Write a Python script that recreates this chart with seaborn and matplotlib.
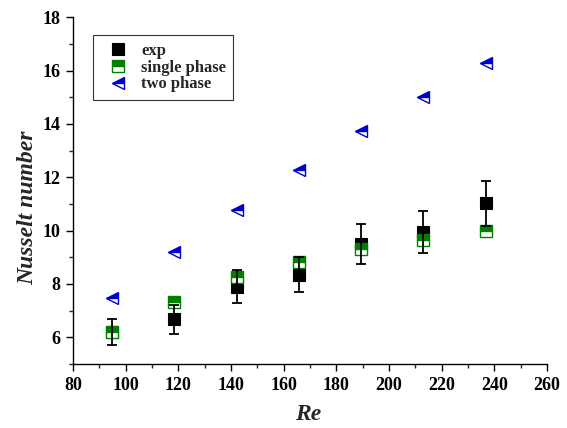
import matplotlib
matplotlib.use("Agg")
import matplotlib.pyplot as plt
from matplotlib.ticker import MultipleLocator
import seaborn as sns
import pandas as pd

re_vals = [94.8, 118.5, 142.2, 165.9, 189.5, 213.1, 236.8]
nu_exp = [6.20, 6.67, 7.90, 8.35, 9.50, 9.95, 11.02]
nu_exp_err = [0.48, 0.53, 0.63, 0.66, 0.76, 0.78, 0.84]
nu_single = [6.21, 7.31, 8.25, 8.84, 9.30, 9.66, 10.00]
nu_two = [7.47, 9.19, 10.78, 12.26, 13.74, 15.03, 16.29]

sns.set_style("ticks")
plt.rcParams["font.family"] = ["Liberation Serif", "DejaVu Serif"]

fig = plt.figure(figsize=(5.67, 4.28), dpi=100)
ax = fig.add_axes([73/567, 64/428, 474/567, 346.7/428])

df = pd.DataFrame({"Re": re_vals, "exp": nu_exp, "err": nu_exp_err,
                   "single": nu_single, "two": nu_two})

sns.lineplot(data=df, x="Re", y="exp", ax=ax, color="black", linestyle="none",
             marker="s", markersize=8, markeredgecolor="black",
             markeredgewidth=0.8, errorbar=None, label="exp", zorder=3)
ax.errorbar(df["Re"], df["exp"], yerr=df["err"], fmt="none", ecolor="black",
            elinewidth=1.3, capsize=3.5, capthick=1.3, zorder=5)
sns.lineplot(data=df, x="Re", y="single", ax=ax, color="green", linestyle="none",
             marker="s", markersize=8, fillstyle="top", markerfacecoloralt="white",
             markeredgecolor="green", markeredgewidth=1.0, errorbar=None,
             label="single phase", zorder=4)
sns.lineplot(data=df, x="Re", y="two", ax=ax, color="#0000cc", linestyle="none",
             marker="<", markersize=9, fillstyle="top", markerfacecoloralt="white",
             markeredgecolor="#0000cc", markeredgewidth=1.0, errorbar=None,
             label="two phase", zorder=4)

ax.set_xlim(80, 260)
ax.set_ylim(5, 18)
ax.xaxis.set_major_locator(MultipleLocator(20))
ax.xaxis.set_minor_locator(MultipleLocator(10))
ax.yaxis.set_major_locator(MultipleLocator(2))
ax.yaxis.set_minor_locator(MultipleLocator(1))
ax.tick_params(which="major", length=5, width=1, direction="out", labelsize=13,
               colors="black", pad=4)
ax.tick_params(which="minor", length=3, width=1, direction="out")
for lab in ax.get_xticklabels() + ax.get_yticklabels():
    lab.set_fontweight("bold")
for s in ["top", "right"]:
    ax.spines[s].set_visible(False)
for s in ["left", "bottom"]:
    ax.spines[s].set_color("black")
    ax.spines[s].set_linewidth(1)

ax.set_xlabel("Re", fontsize=17, fontweight="bold", fontstyle="italic")
ax.set_ylabel("Nusselt number", fontsize=17, fontweight="bold", fontstyle="italic")
ax.xaxis.set_label_coords(0.496, -0.115)
ax.yaxis.set_label_coords(-0.074, 0.45)

leg = ax.legend(loc="upper left", bbox_to_anchor=(0.043, 0.948), frameon=True,
                fancybox=False, edgecolor="black", prop={"weight": "bold", "size": 12},
                handletextpad=0.3, borderpad=0.45, labelspacing=0.05,
                handlelength=2.1, borderaxespad=0)
leg.get_frame().set_linewidth(0.8)

fig.savefig("out.png", dpi=100)
